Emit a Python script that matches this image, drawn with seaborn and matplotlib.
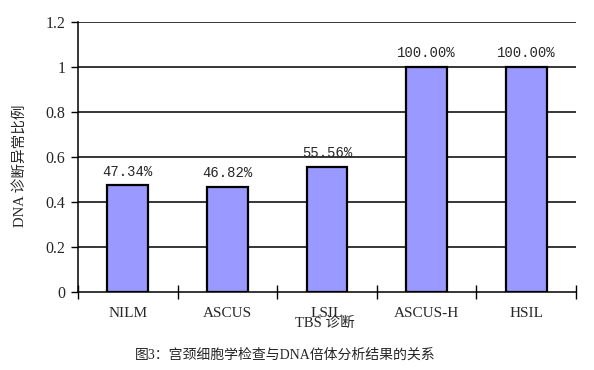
import matplotlib
matplotlib.use("Agg")
import matplotlib.pyplot as plt
import seaborn as sns
import pandas as pd

categories = ["NILM", "ASCUS", "LSIL", "ASCUS-H", "HSIL"]
values = [0.4734, 0.4682, 0.5556, 1.0, 1.0]
value_labels = ["47.34%", "46.82%", "55.56%", "100.00%", "100.00%"]
y_ticks = [0, 0.2, 0.4, 0.6, 0.8, 1.0, 1.2]
y_tick_labels = ["0", "0.2", "0.4", "0.6", "0.8", "1", "1.2"]

sns.set_theme(style="white")
plt.rcParams['font.family'] = ['Liberation Serif', 'Noto Sans CJK SC', 'DejaVu Sans']

df = pd.DataFrame({"cat": categories, "val": values})

fig = plt.figure(figsize=(5.94, 3.70), dpi=100)
ax = fig.add_axes([78/594, 1 - 292/370, (576 - 78)/594, (292 - 22)/370])

sns.barplot(data=df, x="cat", y="val", ax=ax, color="#9999FF", saturation=1,
            width=0.41, edgecolor="black", linewidth=1.6, zorder=3)

ax.set_xlim(-0.5, 4.5)
ax.set_ylim(0, 1.2)
ax.set_yticks(y_ticks)
ax.set_yticklabels(y_tick_labels, fontsize=11.5)
for y in y_ticks[1:]:
    ax.axhline(y, color="black", linewidth=1.1, zorder=1)

# category ticks at boundaries
ax.set_xticks([i + 0.5 for i in range(-1, 5)], minor=True)
ax.set_xticks(range(len(categories)))
ax.set_xticklabels(categories, fontsize=11)
ax.tick_params(axis="x", which="major", length=0, pad=11)
ax.tick_params(axis="x", which="minor", length=10, width=1, direction="inout", color="black", bottom=True)
ax.tick_params(axis="y", which="major", length=5, width=1, direction="out", color="black", left=True, pad=4)

for s in ["top", "right"]:
    ax.spines[s].set_visible(False)
for s in ["left", "bottom"]:
    ax.spines[s].set_color("black")
    ax.spines[s].set_linewidth(1.1)

for i, (v, lab) in enumerate(zip(values, value_labels)):
    ax.text(i, v + 0.03, lab, ha="center", va="bottom", fontsize=10,
            family=['Liberation Mono', 'DejaVu Sans'])

ax.set_xlabel("")
ax.set_ylabel("")
fig.text(325/594, 1 - 323/370, "TBS 诊断", ha="center", va="center", fontsize=10.5)
fig.text(20/594, 1 - 166/370, "DNA 诊断异常比例", ha="center", va="center", rotation=90, fontsize=10.5)
fig.text(285/594, 1 - 355/370, "图3：宫颈细胞学检查与DNA倍体分析结果的关系", ha="center", va="center", fontsize=10)

fig.savefig("out.png", dpi=100, facecolor="white")
